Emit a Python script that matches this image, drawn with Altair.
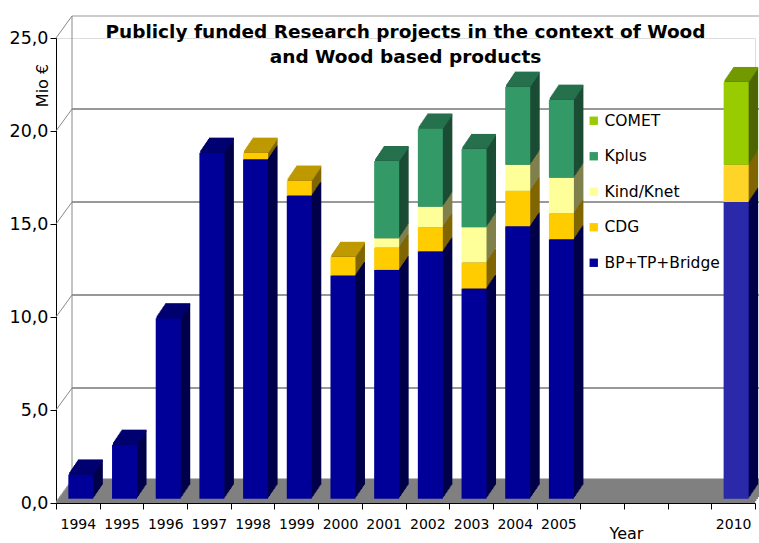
import altair as alt
import pandas as pd

# ---------------- data ----------------
years = ["1994", "1995", "1996", "1997", "1998", "1999", "2000", "2001",
         "2002", "2003", "2004", "2005", " ", "  ", "   ", "2010"]
series_names = ["BP+TP+Bridge", "CDG", "Kind/Knet", "Kplus", "COMET"]
bp = [1.3, 2.9, 9.7, 18.6, 18.25, 16.3, 12.0, 12.3, 13.3, 11.3, 14.65, 13.95, 0, 0, 0, 15.95]
cdg = [0, 0, 0, 0, 0.35, 0.8, 1.0, 1.2, 1.3, 1.4, 1.9, 1.4, 0, 0, 0, 2.0]
kind = [0, 0, 0, 0, 0, 0, 0, 0.5, 1.1, 1.9, 1.4, 1.9, 0, 0, 0, 0]
kplus = [0, 0, 0, 0, 0, 0, 0, 4.15, 4.2, 4.2, 4.2, 4.2, 0, 0, 0, 0]
comet = [0, 0, 0, 0, 0, 0, 0, 0, 0, 0, 0, 0, 0, 0, 0, 4.45]
y_ticks = [0, 5, 10, 15, 20, 25]
dotted_years = ["2010"]
dotted_series = ["BP+TP+Bridge", "CDG"]

title_lines = ["Publicly funded Research projects in the context of Wood",
               "and Wood based products"]

# ---------------- styles ----------------
front_colors = ["#000099", "#FFCC00", "#FFFF99", "#339966", "#99CC00"]
top_colors = ["#000070", "#BF9900", "#BFBF73", "#26704D", "#739900"]
side_colors = ["#00004A", "#806600", "#80804D", "#1B4D35", "#4D6600"]

W, H = 699, 465
BAR = 25
X0 = 3          # bar shift right inside band
Y0 = -4.3       # bar front-face base shift
DEPTH_X, DEPTH_Y = 9.5, 14.0
N = 10
WALL_X, WALL_Y = 16, -22
FONT = "DejaVu Sans"

# ---------------- table ----------------
all_vals = [bp, cdg, kind, kplus, comet]
rows = []
for i, yr in enumerate(years):
    vals = [s[i] for s in all_vals]
    nz = [j for j, v in enumerate(vals) if v > 0]
    cum = 0.0
    for j in nz:
        v = vals[j]
        rows.append({
            "year": yr, "series": series_names[j], "idx": j, "value": v,
            "y0": cum, "y1": cum + v, "is_top": j == nz[-1],
            "side": side_colors[j], "topc": top_colors[j],
            "dotted": (yr in dotted_years) and (series_names[j] in dotted_series),
        })
        cum += v
df = pd.DataFrame(rows)
ticks_df = pd.DataFrame({"v": y_ticks})

x_axis = alt.Axis(title="Year", titleX=570, titleY=35, titleFontSize=16,
                  titleFontWeight="normal", titleAlign="center",
                  titleBaseline="alphabetic", titleColor="black",
                  labelAngle=0, labelFontSize=14, labelColor="black",
                  tickBand="extent", tickSize=6, labelPadding=8,
                  domainColor="black", tickColor="black", zindex=1,
                  labelFont=FONT, titleFont=FONT)
y_axis = alt.Axis(title="Mio €", values=y_ticks,
                  labelExpr="replace(format(datum.value, '.1f'), '.', ',')",
                  labelFontSize=17.5, labelColor="black", labelFont=FONT,
                  tickSize=6, labelPadding=2, grid=False,
                  domainColor="black", tickColor="black",
                  titleX=-9, titleY=47, titleAngle=270, titleAlign="center",
                  titleBaseline="alphabetic", titleFontSize=16,
                  titleFontWeight="normal", titleColor="black", titleFont=FONT)

x_enc = alt.X("year:N", scale=alt.Scale(domain=years, paddingInner=0, paddingOuter=0),
              axis=x_axis)
y_scale = alt.Scale(domain=[0, 25], nice=False, zero=True)

base = alt.Chart(df)
layers = []

# floor
floor_df = ticks_df[ticks_df.v == 0]
for k in range(0, 12):
    f = k / 11.0
    layers.append(
        alt.Chart(floor_df).mark_rule(color="#808080", strokeWidth=2.4,
                                      xOffset=WALL_X * f, x2Offset=WALL_X * f,
                                      yOffset=WALL_Y * f - 1.2)
        .encode(x=alt.value(0), x2=alt.value(W),
                y=alt.Y("v:Q", scale=y_scale, axis=y_axis))
    )

# back wall grid lines
grid_df = ticks_df[ticks_df.v > 0]
layers.append(
    alt.Chart(grid_df).mark_rule(strokeWidth=1, yOffset=WALL_Y)
    .encode(x=alt.value(WALL_X), x2=alt.value(W + WALL_X),
            y=alt.Y("v:Q", scale=y_scale, axis=y_axis),
            color=alt.condition("datum.v == 25", alt.value("#999999"), alt.value("#333333")))
)
# diagonals from front axis to back wall
layers.append(
    alt.Chart(ticks_df).mark_rule(color="#888888", strokeWidth=1, y2Offset=WALL_Y)
    .encode(x=alt.value(0), x2=alt.value(WALL_X),
            y=alt.Y("v:Q", scale=y_scale, axis=y_axis), y2="v:Q")
)
# back wall left edge
layers.append(
    alt.Chart(ticks_df).mark_rule(color="#888888", strokeWidth=1,
                                  yOffset=WALL_Y, y2Offset=WALL_Y)
    .transform_aggregate(lo="min(v)", hi="max(v)")
    .encode(x=alt.value(WALL_X), y=alt.Y("lo:Q", scale=y_scale, axis=y_axis), y2="hi:Q")
)

# side extrusion
for k in range(N, 0, -1):
    f = k / N
    layers.append(
        base.mark_bar(size=BAR, xOffset=X0 + DEPTH_X * f,
                      yOffset=Y0 - DEPTH_Y * f, y2Offset=Y0 - DEPTH_Y * f)
        .encode(x=x_enc, y=alt.Y("y1:Q", scale=y_scale, axis=y_axis), y2="y0:Q",
                fill=alt.Fill("side:N", scale=None, legend=None))
    )
# top faces
for k in range(N, 0, -1):
    f = k / N
    layers.append(
        base.transform_filter("datum.is_top")
        .mark_tick(size=BAR, thickness=DEPTH_Y / N + 0.8,
                   xOffset=X0 + DEPTH_X * f, yOffset=Y0 - DEPTH_Y * f)
        .encode(x=x_enc, y=alt.Y("y1:Q", scale=y_scale, axis=y_axis),
                fill=alt.Fill("topc:N", scale=None, legend=None), opacity=alt.value(1))
    )

# front faces
legend = alt.Legend(orient="none", legendX=530, legendY=75, title=None,
                    symbolType="square", symbolSize=70, symbolStrokeWidth=0,
                    labelFontSize=15.5, labelFont=FONT, labelColor="black",
                    rowPadding=18.5, labelLimit=300, labelOffset=3)
layers.append(
    base.mark_bar(size=BAR, xOffset=X0, yOffset=Y0, y2Offset=Y0, opacity=1)
    .encode(x=x_enc, y=alt.Y("y1:Q", scale=y_scale, axis=y_axis), y2="y0:Q",
            color=alt.Color("series:N",
                            scale=alt.Scale(domain=series_names[::-1],
                                            range=front_colors[::-1]),
                            legend=legend),
            order=alt.Order("idx:Q"))
)
# dotted pattern (approximated by a light veil)
layers.append(
    base.transform_filter("datum.dotted")
    .mark_bar(size=BAR, xOffset=X0, yOffset=Y0, y2Offset=Y0, color="white", opacity=0.16)
    .encode(x=x_enc, y=alt.Y("y1:Q", scale=y_scale, axis=y_axis), y2="y0:Q")
)

chart = alt.layer(*layers).properties(
    width=W, height=H,
    title=alt.TitleParams(text=title_lines, fontSize=18.5, font=FONT, fontWeight="bold",
                          anchor="middle", lineHeight=25, offset=-51, color="black"),
    autosize=alt.AutoSizeParams(type="none"),
    padding={"left": 56, "top": 38, "right": 4, "bottom": 40},
).configure_view(stroke=None).configure(font=FONT, background="white")

chart.save("out.html", embed_options={"renderer": "svg", "actions": False})
